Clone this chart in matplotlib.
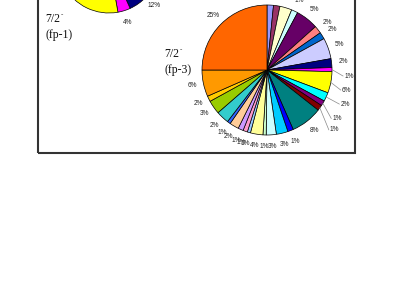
import numpy as np
import matplotlib
matplotlib.use('Agg')
import matplotlib.pyplot as plt
from matplotlib.patches import Rectangle

# Excel 2003 default chart palette (series order)
excel_colors = ['#9999FF', '#993366', '#FFFFCC', '#CCFFFF', '#660066', '#FF8080', '#0066CC', '#CCCCFF',
                '#000080', '#FF00FF', '#FFFF00', '#00FFFF', '#800080', '#800000', '#008080', '#0000FF',
                '#00CCFF', '#CCFFFF', '#CCFFCC', '#FFFF99', '#99CCFF', '#FF99CC', '#CC99FF', '#FFCC99',
                '#3366FF', '#33CCCC', '#99CC00', '#FFCC00', '#FF9900', '#FF6600']

# 7/2- (fp-3) components, clockwise from 12 o'clock
fp3_values = [1.6, 1.6, 3.0, 1.6, 5.6, 1.9, 1.7, 5.2, 2.2, 1.0, 5.3, 2.2, 1.3, 1.4, 7.8,
              1.4, 2.9, 2.5, 0.8, 3.1, 0.8, 1.1, 1.3, 2.3, 0.8, 3.2, 3.4, 1.4, 6.6, 25.0]
fp3_labels = ['2%', '2%', '3%', '1%', '5%', '2%', '2%', '5%', '2%', '1%', '6%', '2%', '1%', '1%', '8%',
              '1%', '3%', '3%', '1%', '4%', '1%', '1%', '1%', '2%', '1%', '2%', '3%', '2%', '6%', '25%']

# 7/2- (fp-1), only the lower part is inside the picture
fp1_values = [5, 3, 6, 2, 5, 3, 4, 3.2, 12, 4, 40, 12.8]
fp1_labels = ['5%', '3%', '6%', '2%', '5%', '3%', '4%', '3%', '12%', '4%', '40%', '13%']

W, H = 415, 289
fig = plt.figure(figsize=(W / 100, H / 100), dpi=100)
ax = fig.add_axes([0, 0, 1, 1])

lab_font = dict(family=['Liberation Sans', 'DejaVu Sans'], fontsize=4.7, color='#222222')
title_font = dict(family=['Liberation Serif', 'DejaVu Serif'], fontsize=8.5, color='#111111')


def draw_pie(values, labels, center, radius, leaders=None, ldist=1.18):
    leaders = leaders or {}
    wedges, _ = ax.pie(values, colors=excel_colors[:len(values)], startangle=90, counterclock=False,
                       center=center, radius=radius,
                       wedgeprops=dict(edgecolor='black', linewidth=0.5))
    cx, cy = center
    for i, (w, lab) in enumerate(zip(wedges, labels)):
        mid = np.deg2rad((w.theta1 + w.theta2) / 2)
        if i in leaders:
            rf, shift = leaders[i]
            a = mid + np.deg2rad(shift)
            tx, ty = cx + rf * radius * np.cos(a), cy + rf * radius * np.sin(a)
            ex, ey = cx + radius * np.cos(mid), cy + radius * np.sin(mid)
            ax.plot([ex, tx - 5], [ey, ty], color='#888888', lw=0.5)
            ax.text(tx - 4, ty, lab, ha='left', va='center', **lab_font)
        else:
            tx, ty = cx + ldist * radius * np.cos(mid), cy + ldist * radius * np.sin(mid)
            ax.text(tx, ty, lab, ha='center', va='center', **lab_font)


def state_label(x, y, name):
    ax.text(x, y, '7/2', ha='left', va='center', **title_font)
    ax.text(x + 16, y + 4, '-', ha='left', va='center',
            family=['Liberation Serif', 'DejaVu Serif'], fontsize=5, color='#111111')
    ax.text(x, y - 16, name, ha='left', va='center', **title_font)


draw_pie(fp1_values, fp1_labels, (109, H + 38), 51, ldist=1.24)
draw_pie(fp3_values, fp3_labels, (267, H - 70), 65,
         leaders={9: (1.25, -4.6), 10: (1.25, -3.3), 11: (1.3, 0.7), 12: (1.3, -4.2), 13: (1.38, -6.2)})

state_label(45, H - 19, '(fp-1)')
state_label(164, H - 54, '(fp-3)')

ax.add_patch(Rectangle((38, H - 153), 317, 200, fill=False, edgecolor='#333333', linewidth=1.5))

ax.set_xlim(0, W)
ax.set_ylim(0, H)
ax.axis('off')
fig.savefig('out.png', dpi=100, facecolor='white')
